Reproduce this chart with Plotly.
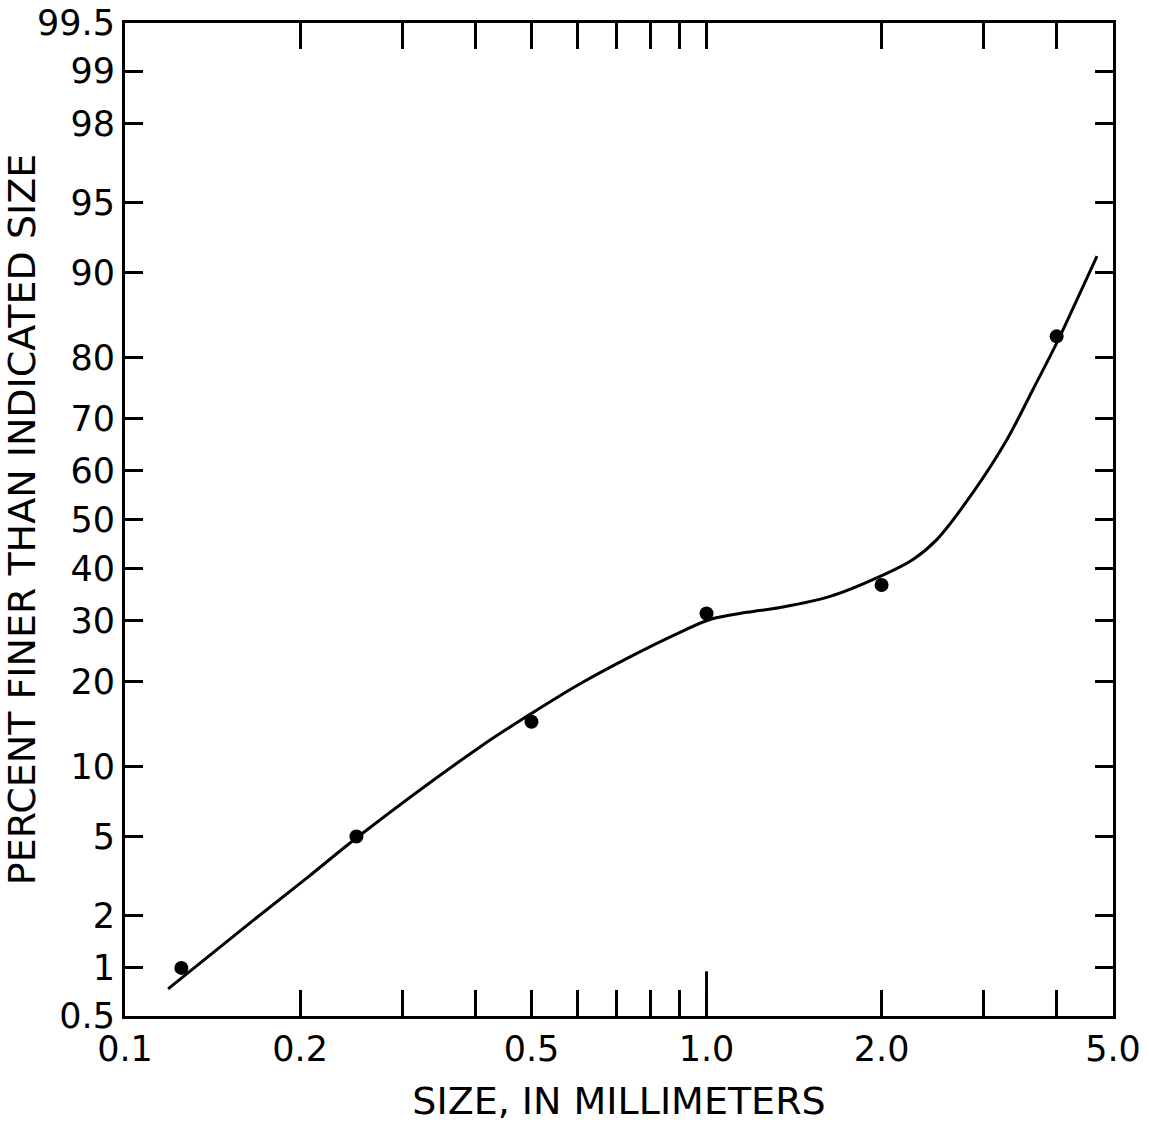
import plotly.graph_objects as go
from statistics import NormalDist

# ---- data ----
sample_size_mm = [0.125, 0.25, 0.5, 1.0, 2.0, 4.0]
sample_percent = [1.0, 5.0, 14.7, 31.3, 36.7, 82.9]

curve_size_mm = [0.1186, 0.1641, 0.2056, 0.2516, 0.4078, 0.4972, 0.6061,
                 0.7386, 0.9003, 1.014, 1.174, 1.338, 1.631, 1.988, 2.265, 2.491,
                 2.873, 3.286, 3.642, 4.006, 4.336, 4.693]
curve_percent = [0.745, 1.82, 3.15, 4.99, 11.9, 15.6, 19.7,
                 23.8, 27.9, 30.2, 31.5, 32.4, 34.5, 38.4, 41.8, 45.9,
                 55.6, 66.1, 75.0, 82.1, 87.3, 91.4]

y_tick_percent = [0.5, 1, 2, 5, 10, 20, 30, 40, 50, 60, 70, 80, 90, 95, 98, 99, 99.5]
y_tick_text = ["0.5", "1", "2", "5", "10", "20", "30", "40", "50", "60", "70",
               "80", "90", "95", "98", "99", "99.5"]
x_tick_vals = [0.1, 0.2, 0.5, 1.0, 2.0, 5.0]
x_tick_text = ["0.1", "0.2", "0.5", "1.0", "2.0", "5.0"]
x_minor_vals = [0.3, 0.4, 0.6, 0.7, 0.8, 0.9, 3.0, 4.0]

nd = NormalDist()


def probit(p):
    return nd.inv_cdf(p / 100.0)


fig = go.Figure()
fig.add_trace(go.Scatter(
    x=curve_size_mm, y=[probit(p) for p in curve_percent],
    mode="lines", line=dict(color="black", width=3, shape="spline", smoothing=1.0),
    hoverinfo="skip", showlegend=False))
fig.add_trace(go.Scatter(
    x=sample_size_mm, y=[probit(p) for p in sample_percent],
    mode="markers", marker=dict(color="black", size=14),
    showlegend=False))

font_family = "DejaVu Sans"

fig.update_layout(
    template="none",
    width=1149, height=1129,
    margin=dict(l=125, r=36, t=23, b=113),
    paper_bgcolor="white", plot_bgcolor="white",
    font=dict(family=font_family, color="black"),
    xaxis=dict(
        type="log", range=[-1, 0.69897], automargin=False,
        tickmode="array", tickvals=x_tick_vals, ticktext=x_tick_text,
        ticks="inside", ticklen=26, tickwidth=3, tickcolor="black",
        minor=dict(tickmode="array", tickvals=x_minor_vals, ticks="inside",
                   ticklen=26, tickwidth=3, tickcolor="black", showgrid=False),
        showline=True, linewidth=3, linecolor="black", mirror="ticks",
        showgrid=False, zeroline=False,
        tickfont=dict(size=35, family=font_family),
        title=dict(text="SIZE, IN MILLIMETERS", font=dict(size=38, family=font_family),
                   standoff=20),
    ),
    yaxis=dict(
        range=[probit(0.5), probit(99.5)], automargin=False,
        tickmode="array", tickvals=[probit(p) for p in y_tick_percent], ticktext=y_tick_text,
        ticks="inside", ticklen=18, tickwidth=3, tickcolor="black",
        showline=True, linewidth=3, linecolor="black", mirror="ticks",
        showgrid=False, zeroline=False,
        tickfont=dict(size=35, family=font_family),
        title=dict(text="PERCENT FINER THAN INDICATED SIZE",
                   font=dict(size=38, family=font_family), standoff=4),
    ),
    shapes=[dict(type="line", xref="x", yref="y domain", x0=1.0, x1=1.0, y0=0, y1=0.045,
                 line=dict(color="black", width=3))],
)

fig.write_html("out.html")
